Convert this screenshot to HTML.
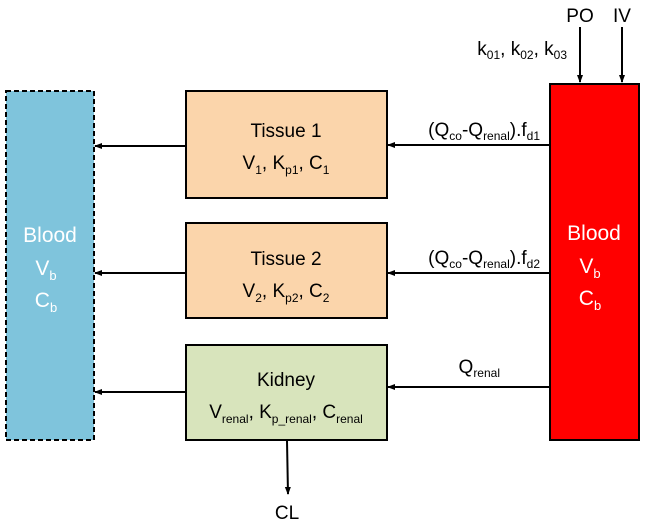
<!DOCTYPE html>
<html><head><style>
body{margin:0;background:#fff;}
svg text{font-family:"Liberation Sans",sans-serif;}
</style></head><body>
<svg width="645" height="524" viewBox="0 0 645 524" xmlns="http://www.w3.org/2000/svg">
<defs><marker id="a" markerWidth="8" markerHeight="8" refX="7" refY="4" orient="auto" markerUnits="userSpaceOnUse"><path d="M0,1 L8,4 L0,7 z" fill="#000"/></marker></defs>
<rect x="6" y="91" width="88" height="349" fill="#7fc4dc" stroke="#000" stroke-width="2" stroke-dasharray="5,3"/>
<g fill="#fff" font-size="21" text-anchor="middle">
<text x="50" y="242">Blood</text>
<text x="46" y="275">V<tspan font-size="13" dy="5">b</tspan></text>
<text x="46" y="307">C<tspan font-size="13" dy="5">b</tspan></text>
</g>
<rect x="186" y="91" width="201" height="107" fill="#fbd5ab" stroke="#000" stroke-width="2"/>
<rect x="186" y="223" width="201" height="95" fill="#fbd5ab" stroke="#000" stroke-width="2"/>
<rect x="186" y="345" width="201" height="95" fill="#d8e4bc" stroke="#000" stroke-width="2"/>
<rect x="550" y="84" width="89" height="356" fill="#ff0000" stroke="#000" stroke-width="2"/>
<g font-size="19" text-anchor="middle" fill="#000">
<text x="286" y="137">Tissue 1</text>
<text x="286" y="169">V<tspan font-size="12" dy="5">1</tspan><tspan dy="-5">, K</tspan><tspan font-size="12" dy="5">p1</tspan><tspan dy="-5">, C</tspan><tspan font-size="12" dy="5">1</tspan></text>
<text x="286" y="265">Tissue 2</text>
<text x="286" y="297">V<tspan font-size="12" dy="5">2</tspan><tspan dy="-5">, K</tspan><tspan font-size="12" dy="5">p2</tspan><tspan dy="-5">, C</tspan><tspan font-size="12" dy="5">2</tspan></text>
<text x="286" y="386">Kidney</text>
<text x="286" y="418">V<tspan font-size="12" dy="5">renal</tspan><tspan dy="-5">, K</tspan><tspan font-size="12" dy="5">p_renal</tspan><tspan dy="-5">, C</tspan><tspan font-size="12" dy="5">renal</tspan></text>
<text x="287" y="519">CL</text>
<text x="580" y="22">PO</text>
<text x="622" y="22">IV</text>
</g>
<g font-size="19" fill="#000" text-anchor="end">
<text x="540" y="136">(Q<tspan font-size="12" dy="4">co</tspan><tspan dy="-4">-Q</tspan><tspan font-size="12" dy="4">renal</tspan><tspan dy="-4">).f</tspan><tspan font-size="12" dy="4">d1</tspan></text>
<text x="540" y="264">(Q<tspan font-size="12" dy="4">co</tspan><tspan dy="-4">-Q</tspan><tspan font-size="12" dy="4">renal</tspan><tspan dy="-4">).f</tspan><tspan font-size="12" dy="4">d2</tspan></text>
<text x="500" y="373">Q<tspan font-size="12" dy="4">renal</tspan></text>
<text x="567" y="55">k<tspan font-size="12" dy="4">01</tspan><tspan dy="-4">, k</tspan><tspan font-size="12" dy="4">02</tspan><tspan dy="-4">, k</tspan><tspan font-size="12" dy="4">03</tspan></text>
</g>
<g fill="#fff" font-size="21" text-anchor="middle">
<text x="594" y="240">Blood</text>
<text x="590" y="273">V<tspan font-size="13" dy="5">b</tspan></text>
<text x="590" y="305">C<tspan font-size="13" dy="5">b</tspan></text>
</g>
<g stroke="#000" stroke-width="2" marker-end="url(#a)">
<line x1="186" y1="146" x2="95" y2="146"/>
<line x1="186" y1="273" x2="95" y2="273"/>
<line x1="186" y1="392" x2="95" y2="392"/>
<line x1="550" y1="145" x2="388" y2="145"/>
<line x1="550" y1="273" x2="388" y2="273"/>
<line x1="550" y1="387" x2="388" y2="387"/>
<line x1="287" y1="441" x2="288" y2="494"/>
<line x1="580" y1="27" x2="580" y2="82"/>
<line x1="622" y1="27" x2="622" y2="82"/>
</g>
</svg>
</body></html>
